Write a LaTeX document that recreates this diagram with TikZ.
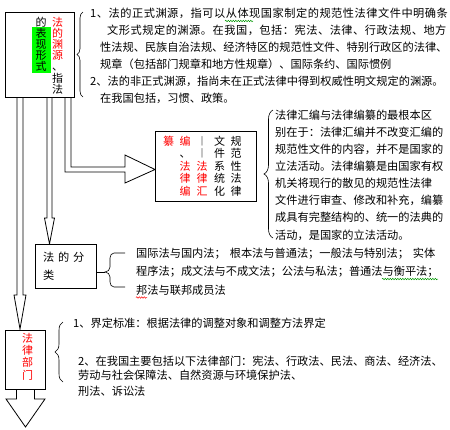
\documentclass[tikz,border=0pt]{standalone}
\usepackage{fontspec}
\setmainfont{Noto Sans CJK SC}
\usetikzlibrary{decorations.pathreplacing,decorations.pathmorphing}
\definecolor{hlgreen}{RGB}{0,255,0}
\definecolor{spellgreen}{RGB}{0,150,0}
\begin{document}
\begin{tikzpicture}[x=1pt,y=-1pt,
  box/.style={draw=black,line width=0.9pt,fill=white,inner sep=0pt,anchor=north west},
  ln/.style={anchor=base west,inner sep=0pt,font=\fontsize{11.2}{13}\selectfont},
  lnwide/.style={anchor=base west,inner sep=0pt,font=\fontsize{11.2}{13}\selectfont\addfontfeature{LetterSpace=4.6}},
  vcol/.style={align=center,inner sep=0pt,font=\fontsize{11}{11.2}\selectfont},
  vcolb/.style={align=center,inner sep=0pt,font=\fontsize{11}{12.5}\selectfont},
  lbrace/.style={decorate,decoration={brace,amplitude=#1},line width=0.6pt},
  blockarrow/.style={draw=black,line width=0.8pt,fill=white,line join=miter},
  spell/.style={draw=#1,line width=0.5pt,decorate,decoration={snake,amplitude=0.7pt,segment length=2.5pt}}
]
\useasboundingbox (0,0) rectangle (450,429);

% ---------- block arrows ----------
\draw[blockarrow] (17,97) -- (17,295) -- (14,295) -- (20,329) -- (26,295) -- (23,295) -- (23,97);
\draw[blockarrow] (47,97) -- (47,218) -- (44.5,218) -- (49.5,244) -- (54.5,218) -- (52,218) -- (52,97);
\draw[blockarrow] (65,97) -- (65,172) -- (125,172) -- (125,183) -- (155,169.5) -- (125,155) -- (125,167) -- (71,167) -- (71,97);
\draw[blockarrow] (16.5,389) -- (16.5,399) -- (6,399) -- (25.5,427) -- (45,399) -- (34.5,399) -- (34.5,389);

% ---------- boxes ----------
\node[box,minimum width=69pt,minimum height=85pt] (b1) at (5,12) {};
\node[box,minimum width=101pt,minimum height=70pt] (b2) at (155,131) {};
\node[box,minimum width=61pt,minimum height=44pt] (b3) at (35,244) {};
\node[box,minimum width=40pt,minimum height=59pt] (b4) at (5,330) {};

% box 1 vertical text
\node[vcol] (b1r) at (57.5,55.6) {\textcolor{red}{法}\\\textcolor{red}{的}\\\textcolor{red}{渊}\\\textcolor{red}{源}\\、\\指\\法};
\node[vcol] (b1l) at (41,22) {的};
\node[vcol,fill=hlgreen,inner xsep=4pt,inner ysep=1pt] (b1g) at (41,50) {表\\现\\形\\式};

% box 2 vertical text (columns read right to left)
\node[vcolb,text=red] (c1) at (168.5,141) {纂};
\node[vcolb] (c2) at (185,166) {\textcolor{red}{编}\\、\\\textcolor{red}{法}\\\textcolor{red}{律}\\\textcolor{red}{编}};
\node[vcolb] (c3) at (202,166) {︱\\︱\\\textcolor{red}{法}\\\textcolor{red}{律}\\\textcolor{red}{汇}};
\node[vcolb] (c4) at (219.5,166) {文\\件\\系\\统\\化};
\node[vcolb] (c5) at (236,166) {规\\范\\性\\法\\律};

% box 3 text
\node[ln] (b3a) at (43,261.3) {法\hspace{3.8pt}的\hspace{3.8pt}分};
\node[ln] (b3b) at (43,279.3) {类};

% box 4 text
\node[vcol,font=\fontsize{11}{12.3}\selectfont,text=red] (b4t) at (27.5,356.5) {法\\律\\部\\门};

% ---------- braces ----------
\draw[lbrace=6pt] (83,97) -- (83,12);
\draw[lbrace=9pt] (273,238) -- (273,110);
\draw[lbrace=8pt] (63,382) -- (63,322);
\coordinate (k3) at (105,272);
\draw[line width=0.6pt] (k3 -| b3.east) -- (k3);
\draw[line width=0.6pt] (125,253) -- (114,253) to[out=180,in=90] (110,258) -- (110,267) to[out=270,in=0] (k3)
  to[out=0,in=90] (110,277) -- (110,282) to[out=270,in=180] (114,287) -- (125,287);

% ---------- text 1 ----------
\node[lnwide] (t1a) at (90,17.8) {1、法的正式渊源，指可以从体现国家制定的规范性法律文件中明确条};
\node[lnwide] (t1b) at (107,34.8) {文形式规定的渊源。在我国，包括：宪法、法律、行政法规、地方};
\node[ln] (t1c) at (100,51.8) {性法规、民族自治法规、经济特区的规范性文件、特别行政区的法律、};
\node[ln] (t1d) at (100,68.8) {规章（包括部门规章和地方性规章）、国际条约、国际惯例};
\node[ln] (t1e) at (90,85.8) {2、法的非正式渊源，指尚未在正式法律中得到权威性明文规定的渊源。};
\node[ln] (t1f) at (100,102.8) {在我国包括，习惯、政策。};

% ---------- text 2 ----------
\node[ln] (t2a) at (275,119.3) {法律汇编与法律编纂的最根本区};
\node[ln] (t2b) at (275,136.4) {别在于：法律汇编并不改变汇编的};
\node[ln] (t2c) at (275,153.5) {规范性文件的内容，并不是国家的};
\node[ln] (t2d) at (275,170.6) {立法活动。法律编纂是由国家有权};
\node[ln] (t2e) at (275,187.7) {机关将现行的散见的规范性法律};
\node[ln] (t2f) at (275,204.8) {文件进行审查、修改和补充，编纂};
\node[ln] (t2g) at (275,221.9) {成具有完整结构的、统一的法典的};
\node[ln] (t2h) at (275,239.0) {活动，是国家的立法活动。};

% ---------- text 3 ----------
\node[ln] (t3a) at (136,257.3) {国际法与国内法；\hspace{4pt}根本法与普通法；一般法与特别法；\hspace{4pt}实体};
\node[ln] (t3b) at (136,275.8) {程序法；成文法与不成文法；公法与私法；普通法与衡平法；};
\node[ln] (t3c) at (136,294.3) {邦法与联邦成员法};

% ---------- text 4 ----------
\node[ln] (t4a) at (73,327) {1、界定标准：根据法律的调整对象和调整方法界定};
\node[ln] (t4b) at (78,365.3) {2、在我国主要包括以下法律部门：宪法、行政法、民法、商法、经济法、};
\node[ln] (t4c) at (78,379.8) {劳动与社会保障法、自然资源与环境保护法、};
\node[ln] (t4d) at (78,395.3) {刑法、诉讼法};

% ---------- spell-check underlines ----------
\draw[spell=spellgreen] (225,21) -- (253,21);
\draw[spell=spellgreen] (382,279) -- (438,279);
\draw[spell=red] (136,297.5) -- (147,297.5);
\end{tikzpicture}
\end{document}
